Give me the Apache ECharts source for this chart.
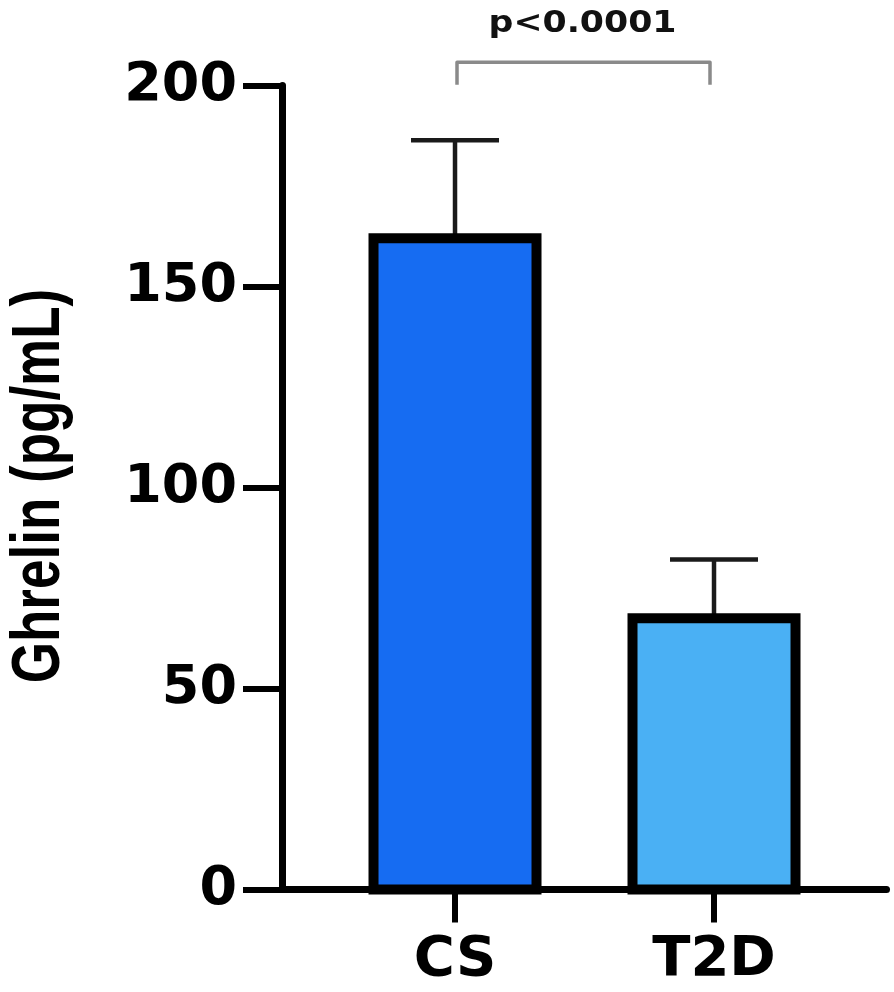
<!DOCTYPE html>
<html>
<head>
<meta charset="utf-8">
<script src="https://cdn.jsdelivr.net/npm/echarts@6/dist/echarts.min.js"></script>
<style>html,body{margin:0;padding:0;background:#fff}#c{width:894px;height:992px}</style>
</head>
<body>
<div id="c"></div>
<script>
const categories = ['CS', 'T2D'];
const means = [162.0, 67.5];
const sdUpper = [24.4, 14.6];
const barColors = ['#166cf2', '#4ab0f4'];
const yTicks = [0, 50, 100, 150, 200];
const sigPair = [0, 1];
const sigLabel = 'p<0.0001';
const yTitle = 'Ghrelin (pg/mL)';

const chart = echarts.init(document.getElementById('c'));
const barData = means.map((m, i) => [i, m]);
const errData = means.map((m, i) => [i, m, m + sdUpper[i]]);

chart.setOption({
  animation: false,
  grid: { left: 282, right: 7.5, top: 85.5, bottom: 102.5 },
  graphic: [{
    type: 'text',
    x: 40, y: 486,
    rotation: Math.PI / 2,
    scaleY: 1.3,
    style: { text: yTitle, fontFamily: 'Liberation Sans', fontWeight: 'bold', fontSize: 53, fill: '#000', align: 'center', verticalAlign: 'middle' }
  }],
  xAxis: {
    type: 'value',
    min: -0.668,
    max: 1.666,
    splitLine: { show: false },
    axisLine: { show: true, onZero: false, lineStyle: { color: '#000', width: 7 } },
    axisTick: { show: true, customValues: [0, 1], length: 33, lineStyle: { color: '#000', width: 6 } },
    axisLabel: {
      customValues: [0, 1],
      formatter: v => categories[Math.round(v)],
      fontFamily: 'DejaVu Sans', fontWeight: 'bold', fontSize: 56, color: '#000', margin: 43
    }
  },
  yAxis: {
    type: 'value', min: yTicks[0], max: yTicks[yTicks.length - 1], interval: 50,
    splitLine: { show: false },
    axisLine: { show: true, onZero: false, lineStyle: { color: '#000', width: 7 } },
    axisTick: { show: true, length: 39, lineStyle: { color: '#000', width: 6 } },
    axisLabel: { fontFamily: 'DejaVu Sans', fontWeight: 'bold', fontSize: 54, color: '#000', margin: 45 }
  },
  series: [
    {
      type: 'custom',
      data: barData,
      z: 2,
      renderItem: (params, api) => {
        const x = api.value(0);
        const top = api.coord([x, api.value(1)]);
        const base = api.coord([x, 0]);
        const w = 163;
        return {
          type: 'rect',
          shape: { x: top[0] - w / 2, y: top[1], width: w, height: base[1] - top[1] },
          style: { fill: barColors[params.dataIndex], stroke: '#000', lineWidth: 10 }
        };
      }
    },
    {
      type: 'custom',
      data: errData,
      z: 1,
      renderItem: (params, api) => {
        const x = api.value(0);
        const lo = api.coord([x, api.value(1)]);
        const hi = api.coord([x, api.value(2)]);
        const half = 44;
        return {
          type: 'group',
          children: [
            { type: 'line', shape: { x1: lo[0], y1: lo[1], x2: hi[0], y2: hi[1] }, style: { stroke: '#1a1a1a', lineWidth: 4.5 } },
            { type: 'line', shape: { x1: hi[0] - half, y1: hi[1], x2: hi[0] + half, y2: hi[1] }, style: { stroke: '#1a1a1a', lineWidth: 4.5 } }
          ]
        };
      }
    },
    {
      type: 'custom',
      data: [[sigPair[0], sigPair[1]]],
      clip: false,
      z: 3,
      renderItem: (params, api) => {
        const a = api.coord([api.value(0), 205.8]);
        const b = api.coord([api.value(1), 205.8]);
        const bottom = api.coord([0, 200.2])[1];
        const t = api.coord([(api.value(0) + api.value(1)) / 2, 215.3]);
        return {
          type: 'group',
          children: [
            { type: 'polyline', shape: { points: [[a[0] + 2, bottom], [a[0] + 2, a[1]], [b[0] - 4, b[1]], [b[0] - 4, bottom]] }, style: { stroke: '#8a8a8a', lineWidth: 3.5, fill: null, lineJoin: 'round' } },
            { type: 'text', x: t[0] - 2, y: t[1], scaleX: 1.12, style: { text: sigLabel, fontFamily: 'DejaVu Sans', fontWeight: 'bold', fontSize: 31, fill: '#111', align: 'center', verticalAlign: 'middle' } }
          ]
        };
      }
    }
  ]
});
</script>
</body>
</html>
